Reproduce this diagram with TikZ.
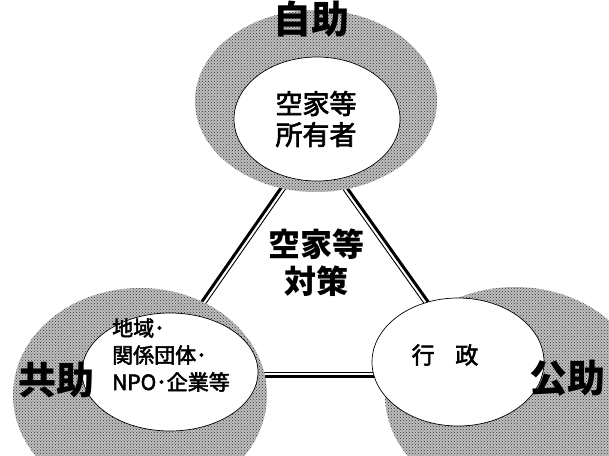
\documentclass[tikz,border=0pt]{standalone}
\usepackage{fontspec}
\newfontfamily\jp{Noto Sans CJK JP}
\newfontfamily\jpm[FakeBold=2.5]{Noto Sans CJK JP}
\usetikzlibrary{shapes.geometric,backgrounds,calc,patterns}
\begin{document}
\begin{tikzpicture}[x=1pt,y=-1pt,
  outerell/.style={ellipse, fill=gray!50, draw=none, inner sep=0pt,
     postaction={pattern=crosshatch dots, pattern color=black!80}},
  innerell/.style={ellipse, fill=white, draw=black, line width=0.7pt, inner sep=0pt},
  thickline/.style={line width=3pt, black},
  thinline/.style={line width=0.9pt, black},
  bigtxt/.style={font=\jp\bfseries\fontsize{38}{40}\selectfont, inner sep=0pt},
  midtxt/.style={font=\jpm\fontsize{27}{31}\selectfont, align=center, inner sep=0pt},
  smalltxt/.style={font=\jpm\fontsize{21}{27}\selectfont, align=left, inner sep=0pt},
  ctrtxt/.style={font=\jp\bfseries\fontsize{32}{37}\selectfont, align=center, inner sep=0pt}]
\useasboundingbox (0,0) rectangle (609,455);
% outer gray ellipses
\node[outerell, minimum width=242pt, minimum height=182pt] (to) at (316,101) {};
\node[outerell, minimum width=254pt, minimum height=214pt] (lo) at (140,395) {};
\node[outerell, minimum width=260pt, minimum height=216pt] (ro) at (515,395) {};
% inner white ellipses
\node[innerell, minimum width=166pt, minimum height=124pt] (t) at (317,119) {};
\node[innerell, minimum width=176pt, minimum height=118pt] (l) at (170,372) {};
\node[innerell, minimum width=172pt, minimum height=128pt] (r) at (458,362) {};
% connectors (double lines) behind the ellipses
\begin{scope}[on background layer]
\fill[white] (0,0) rectangle (609,455);
\draw[thickline] ($(t.center)+(12,0)$) -- ($(l.center)+(-17,0)$);
\draw[thinline] ($(t.center)+(15.5,2.4)$) -- ($(l.center)+(-13.5,2.4)$);
\draw[thickline] ($(t.center)+(-19,0)$) -- ($(r.center)+(13,0)$);
\draw[thinline] ($(t.center)+(-22.5,2.4)$) -- ($(r.center)+(9.5,2.4)$);
\draw[thickline] ($(l.center)+(0,4)$) -- ($(l.center -| r.center)+(0,4)$);
\draw[thinline] ($(l.center)+(0,0)$) -- ($(l.center -| r.center)+(0,0)$);
\end{scope}
% texts
\node[midtxt] (ttxt) at (316,119) {空家等\\所有者};
\node[ctrtxt] (ctxt) at (316,263) {空家等\\対策};
\node[smalltxt, anchor=west] (ltxt) at (112,355) {地域･\\関係団体･\\NPO･企業等};
\node[font=\jpm\fontsize{23}{26}\selectfont, inner sep=0pt] (rtxt) at (445,355) {行\hspace{0.9em}政};
\node[bigtxt] (jijo) at (311,19) {自助};
\node[bigtxt] (kyojo) at (56,380) {共助};
\node[bigtxt] (kojo) at (567,378) {公助};
\end{tikzpicture}
\end{document}
